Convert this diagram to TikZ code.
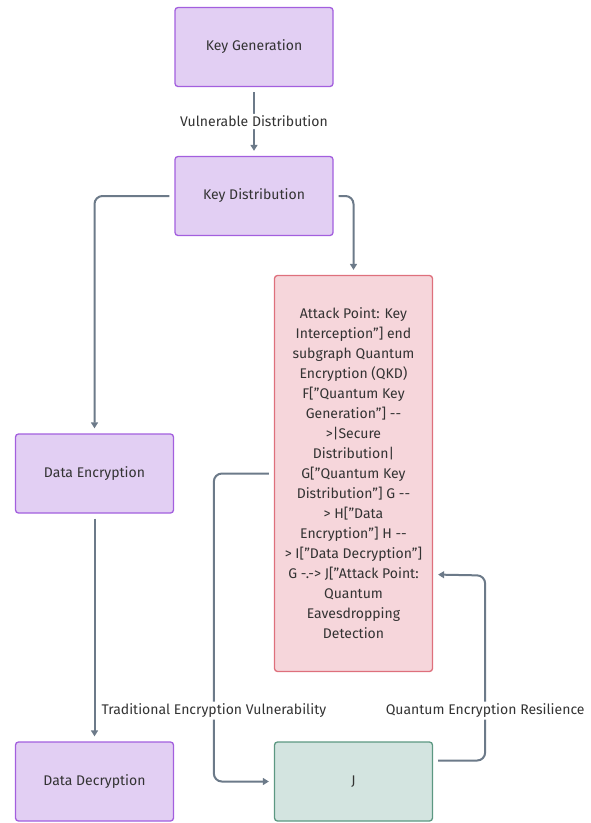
\documentclass[tikz,border=0pt]{standalone}
\usepackage{fontspec}
\setmainfont{Fira Sans}
\usetikzlibrary{arrows.meta}

\definecolor{boxfill}{RGB}{226,207,243}
\definecolor{boxline}{RGB}{163,95,222}
\definecolor{attackfill}{RGB}{246,214,219}
\definecolor{attackline}{RGB}{222,112,124}
\definecolor{jfill}{RGB}{211,228,224}
\definecolor{jline}{RGB}{92,152,130}
\definecolor{linkgray}{RGB}{108,122,137}
\definecolor{textgray}{RGB}{51,51,51}

\begin{document}
\begin{tikzpicture}[x=1pt, y=-1pt,
  font=\fontsize{14}{20}\selectfont, text=textgray,
  flowbox/.style={draw=boxline, fill=boxfill, line width=1.3pt, rounded corners=3pt,
    minimum width=158pt, minimum height=79pt},
  attackbox/.style={draw=attackline, fill=attackfill, line width=1.3pt, rounded corners=3pt,
    minimum width=158pt, minimum height=396pt, align=center},
  jbox/.style={draw=jline, fill=jfill, line width=1.3pt, rounded corners=3pt,
    minimum width=158pt, minimum height=79pt},
  link/.style={draw=linkgray, line width=2pt, rounded corners=8pt,
    -{Triangle[length=6pt, width=7pt]}, shorten >=5pt, shorten <=5pt},
  linklabel/.style={fill=white, inner sep=2pt}]

\useasboundingbox (0,0) rectangle (590,823);

% Boxes
\node [flowbox] (keygen) at (254,47) {Key Generation};
\node [flowbox] (keydist) at (254,196) {Key Distribution};
\node [flowbox] (dataenc) at (94.5,473.5) {Data Encryption};
\node [flowbox] (datadec) at (94.5,781.5) {Data Decryption};
\node [jbox] (jnode) at (353.5,781.5) {J};
\node [attackbox] (attack) at (353.5,473.5) {Attack Point: Key\\
  Interception"] end\\
  subgraph Quantum\\
  Encryption (QKD)\\
  F["Quantum Key\\
  Generation"] {-}{-}\\
  >|Secure\\
  Distribution|\\
  G["Quantum Key\\
  Distribution"] G {-}{-}\\
  > H["Data\\
  Encryption"] H {-}{-}\\
  > I["Data Decryption"]\\
  G -.-> J["Attack Point:\\
  Quantum\\
  Eavesdropping\\
  Detection};

% Links
\draw [link] (keygen) -- node [linklabel] {Vulnerable Distribution} (keydist);
\draw [link] (keydist.west) -| (dataenc.north);
\draw [link] (keydist.east) -| (attack.north);
\draw [link] (dataenc) -- (datadec);
\draw [link] (attack.west) -- ++(-60,0)
  -- node [linklabel, pos=0.77] {Traditional Encryption Vulnerability} ++(0,308)
  -- (jnode.west);
\draw [link] ([yshift=21pt]jnode.east) -- ++(52,0)
  -- node [linklabel, pos=0.27] {Quantum Encryption Resilience} ++(0,-185)
  -- ([yshift=-101pt]attack.east);

\end{tikzpicture}
\end{document}
